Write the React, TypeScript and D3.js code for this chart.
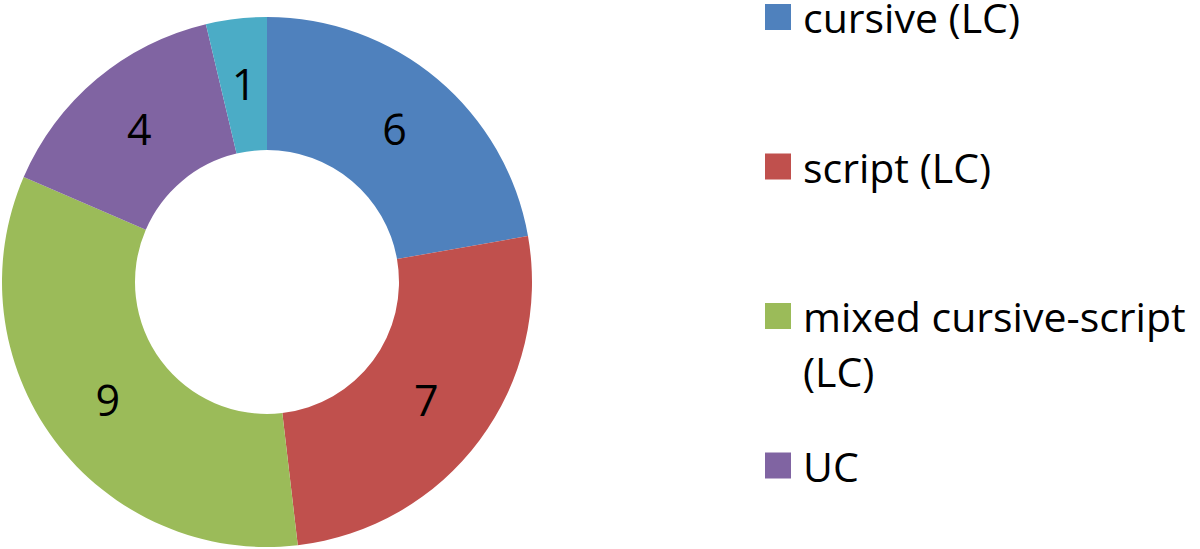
import { useEffect, useRef } from 'react'
import * as d3 from 'd3'

const CATEGORIES = ['cursive (LC)', 'script (LC)', 'mixed cursive-script (LC)', 'UC', 'other']
const VALUES = [6, 7, 9, 4, 1]
const COLORS = ['#4F81BD', '#C0504D', '#9BBB59', '#8064A2', '#4BACC6']
// legend text split into lines the way the original wraps it; the fifth entry falls below the visible area
const LEGEND_LINES = [['cursive (LC)'], ['script (LC)'], ['mixed cursive-script', '(LC)'], ['UC']]

const WIDTH = 1200
const HEIGHT = 549
const FONT = 'Open Sans, sans-serif'

export default function App() {
  const svgRef = useRef<SVGSVGElement>(null)

  useEffect(() => {
    const svgEl = svgRef.current
    if (!svgEl) return
    const svg = d3.select(svgEl)
    svg.selectAll('*').remove()

    const cx = 267
    const cy = 282
    const outerR = 265
    const innerR = 132

    const data = CATEGORIES.map((c, i) => ({ cat: c, value: VALUES[i], color: COLORS[i] }))
    type D = typeof data[number]

    const pie = d3.pie<D>().value(d => d.value).sort(null)
    const arcs = pie(data)
    const arc = d3.arc<d3.PieArcDatum<D>>().innerRadius(innerR).outerRadius(outerR)
    const labelArc = d3.arc<d3.PieArcDatum<D>>()
      .innerRadius((innerR + outerR) / 2).outerRadius((innerR + outerR) / 2)

    const g = svg.append('g').attr('transform', `translate(${cx},${cy})`)

    // ── Slices ──────────────────────────────────────────────────────────────
    g.selectAll('path.slice')
      .data(arcs)
      .join('path')
      .attr('class', 'slice')
      .attr('d', arc)
      .attr('fill', d => d.data.color)

    // ── Value labels ────────────────────────────────────────────────────────
    g.selectAll('text.val')
      .data(arcs)
      .join('text')
      .attr('class', 'val')
      .attr('transform', d => `translate(${labelArc.centroid(d)})`)
      .attr('text-anchor', 'middle')
      .attr('dy', '0.36em')
      .attr('font-family', FONT)
      .attr('font-size', 43)
      .attr('fill', '#000')
      .text(d => d.data.value)

    // ── Legend ──────────────────────────────────────────────────────────────
    const legend = svg.append('g')
    LEGEND_LINES.forEach((lines, i) => {
      const top = 4 + i * 149.5
      legend.append('rect')
        .attr('x', 765).attr('y', top)
        .attr('width', 26).attr('height', 26)
        .attr('fill', COLORS[i])
      const t = legend.append('text')
        .attr('x', 803).attr('y', top + 29)
        .attr('font-family', FONT).attr('font-size', 41).attr('fill', '#000')
      lines.forEach((ln, j) => {
        t.append('tspan').attr('x', 803).attr('dy', j === 0 ? 0 : 55).text(ln)
      })
    })
  }, [])

  return (
    <svg
      ref={svgRef}
      width={WIDTH}
      height={HEIGHT}
      style={{ position: 'absolute', left: 0, top: 0, display: 'block', background: '#fff' }}
    />
  )
}
